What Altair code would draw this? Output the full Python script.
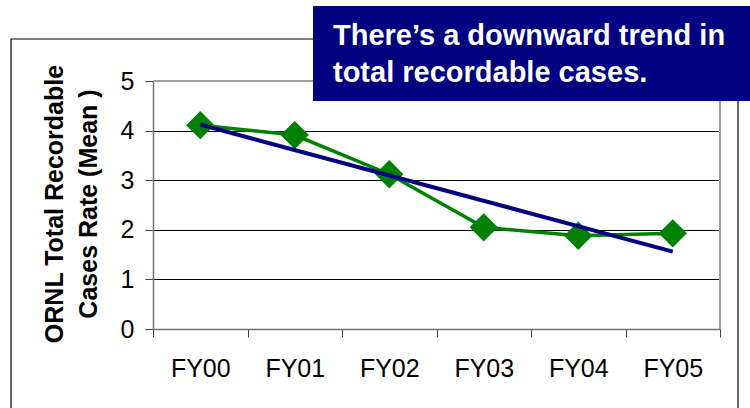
import altair as alt
import pandas as pd

# ---- data ----
categories = ["FY00", "FY01", "FY02", "FY03", "FY04", "FY05"]
rates = [4.11, 3.91, 3.12, 2.05, 1.88, 1.93]
trend_categories = ["FY00", "FY05"]
trend_values = [4.12, 1.56]
y_ticks = [0, 1, 2, 3, 4, 5]
callout_lines = ["There\u2019s a downward trend in", "total recordable cases."]
y_title_lines = ["ORNL Total Recordable", "Cases Rate (Mean )"]

FONT = "Liberation Sans"
W, H = 567, 248

df = pd.DataFrame({"cat": categories, "rate": rates})
tdf = pd.DataFrame({"cat": trend_categories, "rate": trend_values})
one = alt.Data(values=[{}])

x_enc = alt.X(
    "cat:N",
    sort=categories,
    scale=alt.Scale(type="band", domain=categories, paddingInner=0, paddingOuter=0),
    axis=alt.Axis(
        title=None, labelAngle=0, tickBand="extent", tickSize=8, labelPadding=19,
        labelFontSize=25, labelFont=FONT, labelColor="black",
        tickColor="#404040", domainColor="#707070", domainWidth=1.5, grid=False,
    ),
)
y_enc = alt.Y(
    "rate:Q",
    scale=alt.Scale(domain=[0, 5], nice=False, zero=True),
    axis=alt.Axis(
        title=None, values=y_ticks, format="d", tickSize=8, labelPadding=11,
        labelFontSize=25, labelFont=FONT, labelColor="black",
        tickColor="#404040", domainColor="#707070", domainWidth=1.5,
        grid=True, gridColor="black", gridWidth=1,
    ),
)

frame = alt.Chart(one).mark_rect(filled=False, stroke="black", strokeWidth=1.2).encode(
    x=alt.value(-142), x2=alt.value(585), y=alt.value(-42), y2=alt.value(345)
)

green_line = alt.Chart(df).mark_line(color="#008000", strokeWidth=3.5).encode(x=x_enc, y=y_enc)
diamonds = alt.Chart(df).mark_point(
    shape="diamond", filled=True, size=800, color="#008000", opacity=1
).encode(x=x_enc, y=y_enc)
trend = alt.Chart(tdf).mark_line(color="#000080", strokeWidth=4).encode(x=x_enc, y=y_enc)

top_border = alt.Chart(one).mark_rule(color="#a0a0a0", strokeWidth=2).encode(
    x=alt.value(0), x2=alt.value(W), y=alt.value(0)
)
right_border = alt.Chart(one).mark_rule(color="#a0a0a0", strokeWidth=2).encode(
    x=alt.value(W), y=alt.value(0), y2=alt.value(H)
)

callout_box = alt.Chart(one).mark_rect(color="#000080", opacity=1).encode(
    x=alt.value(160), x2=alt.value(600), y=alt.value(-75), y2=alt.value(20)
)
callout1 = alt.Chart(one).mark_text(
    align="left", baseline="alphabetic", font=FONT, fontSize=29, fontWeight="bold", color="white"
).encode(x=alt.value(180), y=alt.value(-36), text=alt.value(callout_lines[0]))
callout2 = alt.Chart(one).mark_text(
    align="left", baseline="alphabetic", font=FONT, fontSize=29, fontWeight="bold", color="white"
).encode(x=alt.value(180), y=alt.value(1), text=alt.value(callout_lines[1]))

ytitle1 = alt.Chart(one).mark_text(
    align="center", baseline="alphabetic", angle=270, font=FONT, fontSize=25, fontWeight="bold", color="black"
).encode(x=alt.value(-90), y=alt.value(123), text=alt.value(y_title_lines[0]))
ytitle2 = alt.Chart(one).mark_text(
    align="center", baseline="alphabetic", angle=270, font=FONT, fontSize=25, fontWeight="bold", color="black"
).encode(x=alt.value(-56), y=alt.value(123), text=alt.value(y_title_lines[1]))

chart = alt.layer(
    frame, green_line, diamonds, trend, top_border, right_border,
    callout_box, callout1, callout2, ytitle1, ytitle2,
).properties(
    width=W, height=H,
    autosize=alt.AutoSizeParams(type="none"),
    padding={"left": 153, "top": 81, "right": 30, "bottom": 79},
    background="white",
).configure_view(strokeWidth=0)

chart.save("out.html", embed_options={"renderer": "svg", "actions": False})
